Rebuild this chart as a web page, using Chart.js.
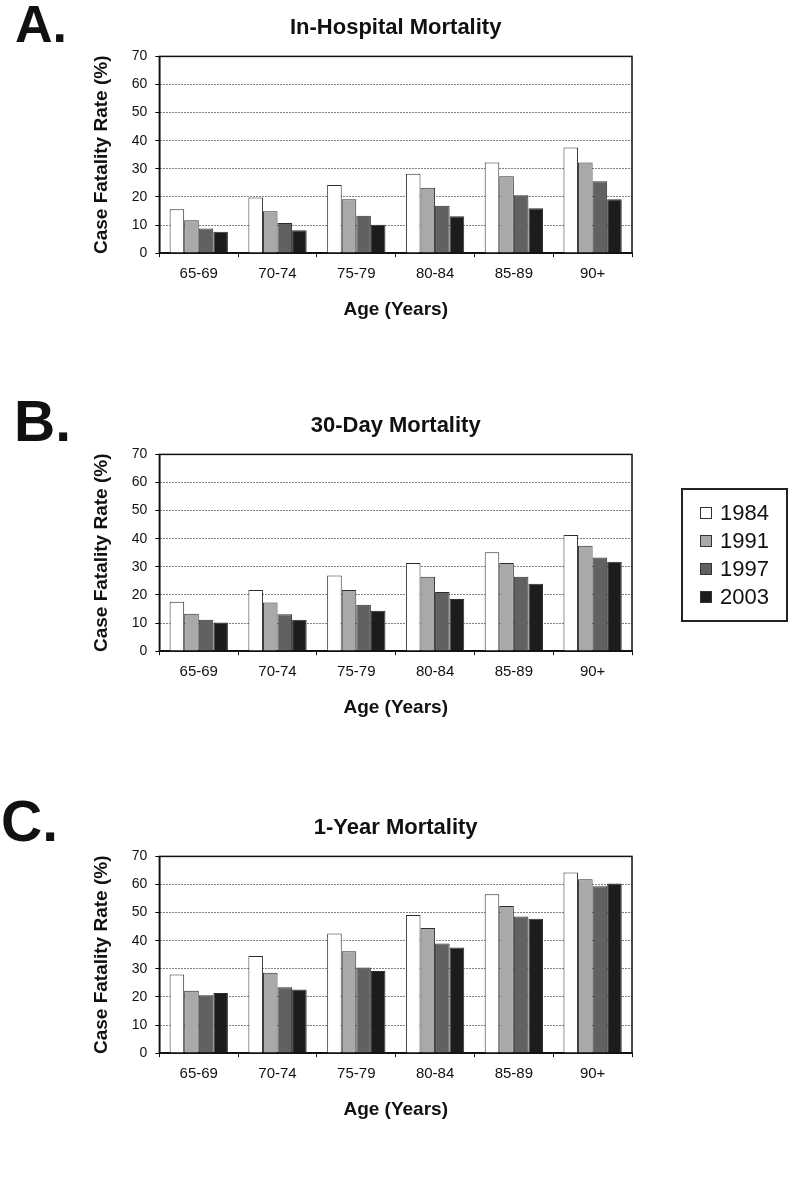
<!DOCTYPE html>
<html>
<head>
<meta charset="utf-8">
<script src="https://cdn.jsdelivr.net/npm/chart.js@4"></script>
<style>
  body { margin: 0; background: #fff; font-family: 'Liberation Sans', Arial, sans-serif; }
  #page { position: relative; width: 800px; height: 1177px; overflow: hidden; }
  .panel { position: absolute; left: 0; width: 800px; height: 360px; }
  .letter { position: absolute; font-weight: bold; line-height: 1; color: #111; }
  #legend { position: absolute; left: 681px; top: 488px; width: 103px; height: 130px;
            border: 2px solid #222; box-sizing: content-box; padding: 0; }
  #legend .row { position: absolute; left: 17px; height: 28px; line-height: 28px; font-size: 22px; color: #111; }
  #legend .sw { display: inline-block; width: 10px; height: 10px; border: 1px solid #333; margin-right: 8px; vertical-align: 1px; }
</style>
</head>
<body>
<div id="page">
  <div class="letter" style="left:15px; top:-2px; font-size:52px;">A.</div>
  <div class="letter" style="left:14px; top:393px; font-size:57px;">B.</div>
  <div class="letter" style="left:1px; top:793px; font-size:57px;">C.</div>

  <div class="panel" style="top:0px;"><canvas id="chartA" width="800" height="360"></canvas></div>
  <div class="panel" style="top:398px;"><canvas id="chartB" width="800" height="360"></canvas></div>
  <div class="panel" style="top:800px;"><canvas id="chartC" width="800" height="360"></canvas></div>

  <div id="legend"></div>
</div>

<script>
// Věkové skupiny a roky
const ageGroups = ['65-69', '70-74', '75-79', '80-84', '85-89', '90+'];
const years = ['1984', '1991', '1997', '2003'];
const yMax = 70;
const yStep = 10;

// A. In-Hospital Mortality
const hosp1984 = [15.6, 19.8, 24.3, 28.3, 32.3, 37.6];
const hosp1991 = [11.7, 14.9, 19.2, 23.3, 27.4, 32.3];
const hosp1997 = [8.8, 10.7, 13.3, 16.9, 20.6, 25.6];
const hosp2003 = [7.6, 8.2, 10.1, 13.1, 16.0, 19.2];

// B. 30-Day Mortality
const day30_1984 = [17.6, 21.8, 26.9, 31.4, 35.2, 41.3];
const day30_1991 = [13.3, 17.3, 21.8, 26.5, 31.4, 37.5];
const day30_1997 = [11.2, 13.1, 16.5, 21.1, 26.5, 33.3];
const day30_2003 = [10.2, 11.2, 14.4, 18.6, 24.0, 31.8];

// C. 1-Year Mortality
const year1_1984 = [28.0, 34.6, 42.6, 49.2, 56.5, 64.3];
const year1_1991 = [22.2, 28.6, 36.3, 44.5, 52.4, 61.9];
const year1_1997 = [20.6, 23.5, 30.5, 39.0, 48.6, 59.4];
const year1_2003 = [21.4, 22.7, 29.2, 37.6, 47.8, 60.4];

const barColors = ['#ffffff', '#a9a9a9', '#616161', '#1c1c1c'];

Chart.defaults.font.family = "'Liberation Sans', Arial, sans-serif";
Chart.defaults.color = '#111';

// Rámeček kolem plochy grafu
const frameBox = {
    id: 'frameBox',
    afterDraw(chart) {
        const a = chart.chartArea;
        const ctx = chart.ctx;
        ctx.save();
        ctx.strokeStyle = '#111';
        ctx.lineWidth = 1.5;
        ctx.strokeRect(a.left, a.top, a.right - a.left, a.bottom - a.top);
        ctx.restore();
    }
};

function makeChart(canvasId, titleText, series) {
    const ctx = document.getElementById(canvasId).getContext('2d');
    return new Chart(ctx, {
        type: 'bar',
        data: {
            labels: ageGroups,
            datasets: series.map((values, i) => ({
                label: years[i],
                data: values,
                backgroundColor: barColors[i],
                borderColor: '#2e2e2e',
                borderWidth: 1,
                categoryPercentage: 0.74,
                barPercentage: 1.0
            }))
        },
        options: {
            responsive: false,
            animation: false,
            devicePixelRatio: 1,
            layout: { padding: { top: 15, left: 90, right: 168, bottom: 39 } },
            plugins: {
                legend: { display: false },
                tooltip: { enabled: false },
                title: {
                    display: true,
                    text: titleText,
                    fullSize: false,
                    color: '#111',
                    font: { size: 22, weight: 'bold' },
                    padding: { top: 0, bottom: 15 }
                }
            },
            scales: {
                x: {
                    grid: { display: true, drawOnChartArea: false, drawTicks: true, tickLength: 4, color: '#111', offset: true },
                    border: { display: true, color: '#111', width: 1.5 },
                    ticks: { color: '#111', font: { size: 15 }, padding: 8 },
                    title: {
                        display: true,
                        text: 'Age (Years)',
                        color: '#111',
                        font: { size: 19, weight: 'bold' },
                        padding: { top: 7, bottom: 0 }
                    }
                },
                y: {
                    min: 0,
                    max: yMax,
                    grid: { color: '#000', lineWidth: 1, tickLength: 4 },
                    border: { display: true, color: '#111', width: 1.5, dash: [1, 2] },
                    ticks: { stepSize: yStep, color: '#111', font: { size: 14 }, padding: 8 },
                    title: {
                        display: true,
                        text: 'Case Fatality Rate (%)',
                        color: '#111',
                        font: { size: 19, weight: 'bold' },
                        padding: { top: 0, bottom: 11 }
                    }
                }
            }
        },
        plugins: [frameBox]
    });
}

makeChart('chartA', 'In-Hospital Mortality', [hosp1984, hosp1991, hosp1997, hosp2003]);
makeChart('chartB', '30-Day Mortality', [day30_1984, day30_1991, day30_1997, day30_2003]);
makeChart('chartC', '1-Year Mortality', [year1_1984, year1_1991, year1_1997, year1_2003]);

// Legenda (společná pro všechny grafy)
const legendEl = document.getElementById('legend');
years.forEach((y, i) => {
    const row = document.createElement('div');
    row.className = 'row';
    row.style.top = (9 + i * 28) + 'px';
    row.innerHTML = '<span class="sw" style="background:' + barColors[i] + '"></span>' + y;
    legendEl.appendChild(row);
});
</script>
</body>
</html>
